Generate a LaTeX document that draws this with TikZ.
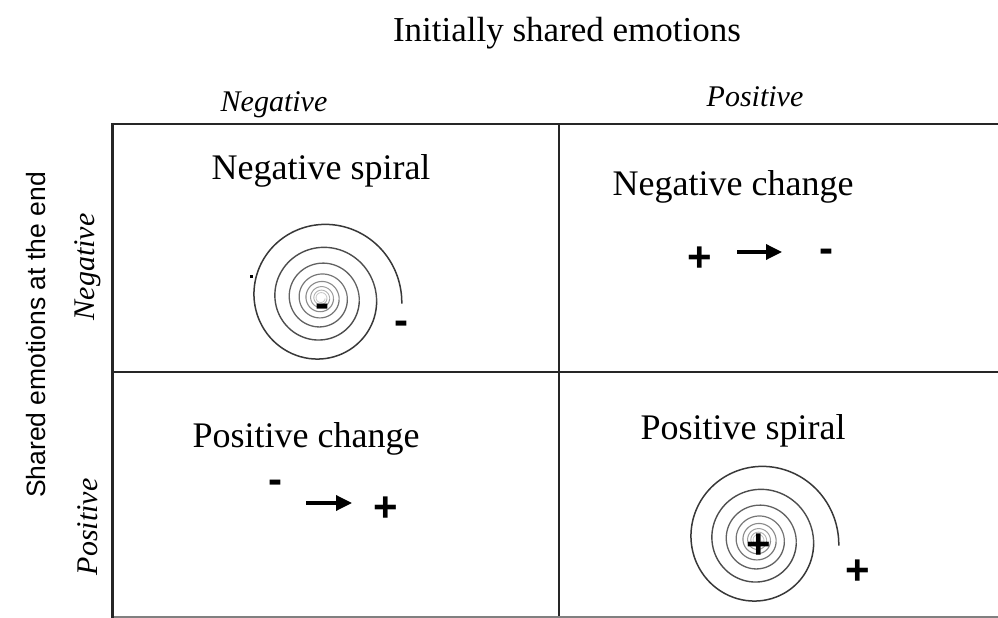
\documentclass[tikz,border=0pt]{standalone}
\usepackage{fontspec}
\setmainfont{Liberation Serif}
\newfontfamily\arialfont{Liberation Sans}
\usetikzlibrary{arrows.meta}
\tikzset{
  gridline/.style={draw=black!85, line width=#1},
  titletext/.style={font=\fontsize{35}{38}\selectfont, anchor=base},
  headtext/.style={font=\fontsize{30}{34}\selectfont\itshape, anchor=base},
  sidetext/.style={font=\arialfont\fontsize{26.5}{30}\selectfont, rotate=90},
  sidehead/.style={font=\fontsize{30}{34}\selectfont\itshape, rotate=90},
  celltext/.style={font=\fontsize{36}{40}\selectfont, anchor=base},
  signtext/.style={font=\arialfont\bfseries\fontsize{42}{46}\selectfont, anchor=base, inner sep=0pt},
  changearrow/.style={line width=3.4pt, -{Triangle[length=16pt,width=15pt]}},
}
\newcommand{\mySpiral}[1]{%
  \begin{scope}[shift={#1}]
    \foreach \k in {0,...,7}{
      \pgfmathsetmacro\shd{int(78-8*\k)}
      \pgfmathsetmacro\lw{1.5-0.1*\k}
      \draw[black!\shd, line width=\lw pt] plot[domain={\k*360-4}:{\k*360+356}, samples=90, smooth]
        ({81*exp(-0.0010315*(\x+4))*cos(\x)}, {81*exp(-0.0010315*(\x+4))*sin(\x)});
    }
  \end{scope}}
\begin{document}
\begin{tikzpicture}[x=1pt,y=1pt]
\useasboundingbox (0,0) rectangle (998,618);
% grid
\coordinate (tl) at (112,494);
\coordinate (tr) at (998,494);
\coordinate (ml) at (112,246);
\coordinate (mr) at (998,246);
\coordinate (bl) at (112,1);
\coordinate (br) at (998,1);
\coordinate (vt) at (559,494);
\coordinate (vb) at (559,0);
\draw[gridline=2pt] (tl) -- (tr);
\draw[gridline=1.5pt] (ml) -- (mr);
\draw[gridline=2pt] (vt) -- (vb);
\draw[draw=black!50, line width=2pt] (bl) -- (br);
\draw[gridline=3pt] (112,495) -- (112,0);
% headings
\node[titletext] (title) at (567,576) {Initially shared emotions};
\node[headtext] (hneg) at (274,506) {Negative};
\node[headtext] (hpos) at (755,511) {Positive};
\node[sidetext] (side) at (36,283) {Shared emotions at the end};
\node[sidehead] (vneg) at (88,351) {Negative};
\node[sidehead] (vpos) at (88,91) {Positive};
% cell titles
\node[celltext] (c1) at (321,438) {Negative spiral};
\node[celltext] (c2) at (733,422) {Negative change};
\node[celltext] (c3) at (306,170) {Positive change};
\node[celltext] (c4) at (743,178) {Positive spiral};
% negative spiral
\mySpiral{(321,320)}
\node[signtext] (s1in) at (322,300) {-};
\node[signtext] (s1out) at (401,283) {-};
\fill (250,340) rectangle (252.5,342.5);
% positive spiral
\mySpiral{(758,78)}
\node[signtext] (s2in) at (759,59) {+};
\node[signtext] (s2out) at (858,33) {+};
% negative change
\node[signtext] (nc1) at (700,346) {+};
\node[signtext] (nc2) at (826,355) {-};
\coordinate (nca) at (737,366);
\coordinate (ncb) at (782,366);
\draw[changearrow] (nca) -- (ncb);
% positive change
\node[signtext] (pc1) at (275,124) {-};
\node[signtext] (pc2) at (386,96) {+};
\coordinate (pca) at (306,115);
\coordinate (pcb) at (352,115);
\draw[changearrow] (pca) -- (pcb);
\end{tikzpicture}
\end{document}
